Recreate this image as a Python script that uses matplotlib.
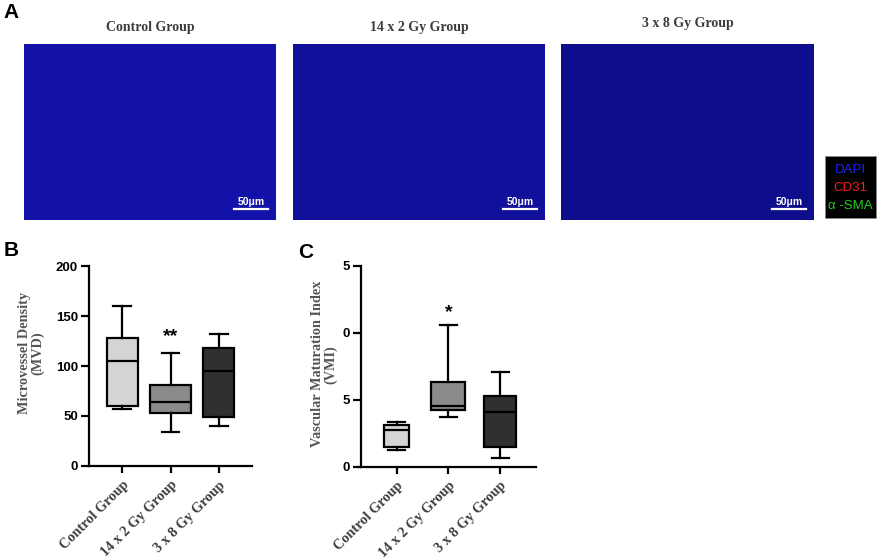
import matplotlib
matplotlib.use("Agg")
import matplotlib.pyplot as plt
from matplotlib.patches import Rectangle

# ---------------- data ----------------
groups = ["Control Group", "14 x 2 Gy Group", "3 x 8 Gy Group"]
box_colors = ["#d4d4d4", "#8a8a8a", "#303030"]

# MVD: (whislo, q1, med, q3, whishi)
mvd_whislo = [57, 34, 40]
mvd_q1 = [60, 53, 49]
mvd_med = [105, 64, 95]
mvd_q3 = [128, 81, 118]
mvd_whishi = [160, 113, 132]
mvd_ticks = [0, 50, 100, 150, 200]
mvd_ticklabels = ["0", "50", "100", "150", "200"]

vmi_whislo = [1.24, 3.73, 0.67]
vmi_q1 = [1.49, 4.25, 1.49]
vmi_med = [2.74, 4.55, 4.05]
vmi_q3 = [3.11, 6.34, 5.30]
vmi_whishi = [3.36, 10.6, 7.04]
vmi_ticks = [0, 5, 10, 15]
vmi_ticklabels = ["0", "5", "0", "5"]

image_titles = ["Control Group", "14 x 2 Gy Group", "3 x 8 Gy Group"]
stain_labels = ["DAPI", "CD31", "\u03b1 -SMA"]
stain_colors = ["#1f1fff", "#ff1a1a", "#22cc22"]

W, H = 879, 560
fig = plt.figure(figsize=(W / 100, H / 100), dpi=100)
fig.patch.set_facecolor("white")

def fx(x):
    return x / W

def fy(y):
    return 1 - y / H

serif = "Liberation Serif"
sans = "Liberation Sans"
title_color = "#3c3c3c"

# ---------------- panel A ----------------
fig.text(fx(3), fy(12), "A", fontsize=15, fontweight="bold", family=sans, va="center", ha="left")
img_lefts = [24, 293, 561]
img_rights = [276, 545, 814]
img_fill = ["#1212a8", "#10109a", "#0e0e8c"]
title_y = [27, 27, 24]
for i in range(3):
    l, r = img_lefts[i], img_rights[i]
    ax = fig.add_axes([fx(l), fy(220), fx(r - l), (220 - 44) / H])
    ax.set_facecolor(img_fill[i])
    ax.set_xticks([]); ax.set_yticks([])
    for s in ax.spines.values():
        s.set_visible(False)
    ax.plot([0.835, 0.97], [0.062, 0.062], color="white", lw=1.6, transform=ax.transAxes)
    ax.text(0.902, 0.10, "50\u03bcm", color="white", fontsize=7.5, fontweight="bold",
            family=sans, ha="center", va="center", transform=ax.transAxes)
    fig.text(fx((l + r) / 2), fy(title_y[i]), image_titles[i], family=serif, fontweight="bold",
             fontsize=10, color=title_color, ha="center", va="center")

# legend box
fig.patches.append(Rectangle((fx(825), fy(218)), fx(51), (218 - 156) / H, transform=fig.transFigure,
                             facecolor="black", edgecolor="#888888", lw=0.5))
for lab, col, yy in zip(stain_labels, stain_colors, [170, 188, 206]):
    fig.text(fx(850), fy(yy), lab, color=col, fontsize=9.5, family=sans, ha="center", va="center")

# ---------------- box plots ----------------
def boxplot(ax, lo, q1, med, q3, hi, widths, capw):
    for i in range(3):
        st = dict(whislo=lo[i], q1=q1[i], med=med[i], q3=q3[i], whishi=hi[i], fliers=[], label=groups[i])
        ax.bxp([st], positions=[i], widths=widths[i], patch_artist=True, showfliers=False,
               boxprops=dict(facecolor=box_colors[i], edgecolor="black", linewidth=1.6),
               medianprops=dict(color="black", linewidth=1.6),
               whiskerprops=dict(color="black", linewidth=1.6),
               capprops=dict(color="black", linewidth=1.6), capwidths=capw, manage_ticks=False)

def style(ax, ticks, ticklabels, ylim):
    ax.set_xlim(-0.69, 2.69)
    ax.set_ylim(*ylim)
    ax.spines["top"].set_visible(False)
    ax.spines["right"].set_visible(False)
    ax.spines["left"].set_linewidth(1.6)
    ax.spines["bottom"].set_linewidth(1.6)
    ax.set_yticks(ticks)
    ax.set_yticklabels(ticklabels, fontsize=9.5, fontweight="bold", family=sans)
    ax.set_xticks(range(3))
    ax.set_xticklabels(groups, rotation=45, ha="right", rotation_mode="anchor",
                       fontsize=10.3, fontweight="bold", family=serif, color=title_color)
    ax.tick_params(axis="y", length=6, width=1.6, pad=2)
    ax.tick_params(axis="x", length=5, width=1.6, pad=4)

# panel B
axB = fig.add_axes([fx(89), fy(466), fx(163), 200 / H])
boxplot(axB, mvd_whislo, mvd_q1, mvd_med, mvd_q3, mvd_whishi, [0.65, 0.84, 0.65], 0.37)
style(axB, mvd_ticks, mvd_ticklabels, (0, 200))
axB.text(1, 121, "**", ha="center", va="bottom", fontsize=14, fontweight="bold", family=sans)
axB.set_ylabel("Microvessel Density\n(MVD)", family=serif, fontweight="bold", fontsize=10.3,
               color="#555555", linespacing=1.0)
axB.yaxis.set_label_coords(-0.275, 0.565)
fig.text(fx(4), fy(251), "B", fontsize=15, fontweight="bold", family=sans, va="center", ha="left")

# panel C
axC = fig.add_axes([fx(361), fy(466.7), fx(174.7), 201 / H])
boxplot(axC, vmi_whislo, vmi_q1, vmi_med, vmi_q3, vmi_whishi, [0.48, 0.66, 0.63], 0.33)
style(axC, vmi_ticks, vmi_ticklabels, (0, 15))
axC.text(1, 10.9, "*", ha="center", va="bottom", fontsize=14, fontweight="bold", family=sans)
axC.set_ylabel("Vascular Maturation Index\n(VMI)", family=serif, fontweight="bold", fontsize=10.3,
               color="#555555", linespacing=1.0)
axC.yaxis.set_label_coords(-0.135, 0.51)
fig.text(fx(298), fy(253), "C", fontsize=15, fontweight="bold", family=sans, va="center", ha="left")

fig.savefig("out.png", dpi=100)
